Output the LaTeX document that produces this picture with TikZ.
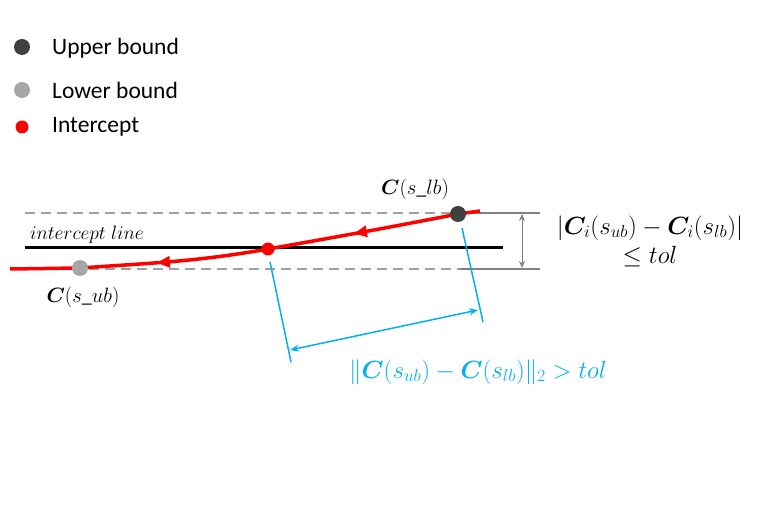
\documentclass[tikz,border=0pt]{standalone}
\usepackage{fontspec}
\setmainfont{Carlito}
\usepackage{amsmath,bm}
\usetikzlibrary{arrows.meta,decorations.markings}

\definecolor{ubgray}{RGB}{64,64,64}
\definecolor{lbgray}{RGB}{166,166,166}
\definecolor{dashgray}{RGB}{160,160,160}
\definecolor{tolgray}{RGB}{128,128,128}
\definecolor{distblue}{RGB}{0,176,240}

\tikzset{
  dot/.style={circle,inner sep=0pt,minimum size=16pt},
  updot/.style={dot,fill=ubgray},
  lowdot/.style={dot,fill=lbgray},
  icdot/.style={dot,fill=red,minimum size=13pt},
  legend/.style={anchor=west,inner sep=0pt,font=\fontsize{23.5}{27}\selectfont},
  mathlbl/.style={font=\fontsize{20}{24}\selectfont},
  biglbl/.style={inner sep=0pt,font=\fontsize{24}{28}\selectfont},
  bound/.style={dashgray,line width=1.3pt,dash pattern=on 10pt off 6pt},
  curve/.style={red,line width=3.5pt,postaction={decorate},
    decoration={markings,
      mark=at position 0.27 with {\arrow{Triangle[length=13pt,width=11pt]}},
      mark=at position 0.69 with {\arrow{Triangle[length=13pt,width=11pt]}}}},
  dist/.style={distblue,line width=1.5pt},
}

\begin{document}
\begin{tikzpicture}[x=1pt,y=1pt]
\useasboundingbox (0,0) rectangle (761,530);

% legend
\node[updot]  (lg1) at (22,483) {};
\node[lowdot] (lg2) at (22,440) {};
\node[icdot]  (lg3) at (22,403) {};
\node[legend] (t1) at (52,482) {Upper bound};
\node[legend] (t2) at (52,440) {Lower bound};
\node[legend] (t3) at (52,403) {Intercept};

% points on the curve
\coordinate (cstart) at (10,261);
\coordinate (pub)    at (80,262);
\coordinate (pic)    at (268,281);
\coordinate (plb)    at (458,316);
\coordinate (cend)   at (480,319);

% bounds
\coordinate (d1) at (25,317);   \coordinate (d2) at (455,317);
\coordinate (d3) at (25,261);   \coordinate (d4) at (460,261);
\coordinate (s1) at (462,317);  \coordinate (s2) at (540,317);
\coordinate (s3) at (460,261);  \coordinate (s4) at (540,261);
\draw[bound] (d1) -- (d2);
\draw[bound] (d3) -- (d4);
\draw[tolgray,line width=1.3pt] (s1) -- (s2);
\draw[tolgray,line width=1.3pt] (s3) -- (s4);
\coordinate (v1) at (522,316);  \coordinate (v2) at (522,262);
\draw[tolgray,line width=0.8pt,{Stealth[length=7pt,width=6pt]}-{Stealth[length=7pt,width=6pt]}] (v1) -- (v2);

% intercept line
\coordinate (l1) at (25,282);  \coordinate (l2) at (503,282);
\draw[black,line width=3pt] (l1) -- (l2);
\node[font=\fontsize{17}{20}\selectfont] (iline) at (87,295) {\scalebox{1.12}{$intercept\;line$}};

% curve
\draw[curve] (cend) -- (plb) to[out=191,in=10] (pic) to[out=190,in=4] (pub) -- (cstart);

% distance
\coordinate (f1) at (270,268);  \coordinate (f2) at (291,168);
\coordinate (f3) at (462,302);  \coordinate (f4) at (483,208);
\coordinate (a1) at (290,180);  \coordinate (a2) at (478,220);
\draw[dist] (f1) -- (f2);
\draw[dist] (f3) -- (f4);
\draw[dist,{Stealth[length=9pt,width=7pt]}-{Stealth[length=9pt,width=7pt]}] (a1) -- (a2);

% dots
\node[lowdot] (ub) at (pub) {};
\node[icdot]  (ic) at (pic) {};
\node[updot]  (lb) at (plb) {};

% labels
\node[mathlbl] (clb) at (415,341) {$\bm{C}(s\_lb)$};
\node[mathlbl] (cub) at (83,233) {$\bm{C}(s\_ub)$};
\node[biglbl,distblue] (dlbl) at (478,158) {$\lVert\bm{C}(s_{ub})-\bm{C}(s_{lb})\rVert_2>tol$};
\node[biglbl] (tlbl1) at (650,302) {$|\bm{C}_i(s_{ub})-\bm{C}_i(s_{lb})|$};
\node[biglbl] (tlbl2) at (650,273) {$\leq tol$};
\end{tikzpicture}
\end{document}
